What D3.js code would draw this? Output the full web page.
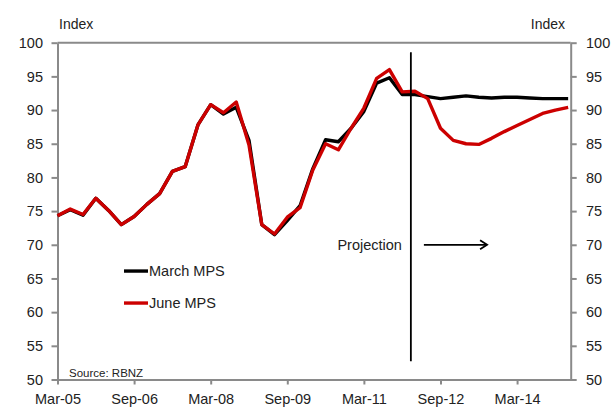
<!DOCTYPE html>
<html><head><meta charset="utf-8">
<script src="https://cdn.jsdelivr.net/npm/d3@7"></script>
<style>
body{margin:0;background:#fff;}
text{font-family:"Liberation Sans",Arial,sans-serif;fill:#222;}
</style></head><body>
<svg id="c" width="614" height="407"></svg>
<script>
// quarterly index, Mar-05 (0) to Mar-15 (40)
const quarters = d3.range(0, 41);
const marchMPS = [74.3,75.2,74.4,76.9,75.1,73.0,74.2,76.0,77.6,80.9,81.6,87.8,90.8,89.4,90.4,85.5,73.0,71.5,73.6,75.8,81.3,85.6,85.3,87.3,89.8,94.0,94.8,92.3,92.3,92.0,91.7,91.9,92.1,91.9,91.8,91.9,91.9,91.8,91.7,91.7,91.7];
const juneMPS  = [74.3,75.3,74.5,76.9,75.1,73.0,74.2,76.0,77.6,80.9,81.6,87.8,90.8,89.6,91.2,84.8,73.0,71.6,74.1,75.5,81.1,85.0,84.1,87.3,90.3,94.7,96.0,92.7,92.8,91.7,87.3,85.5,85.0,84.9,85.8,86.8,87.7,88.6,89.5,90.0,90.4];
const xTickIdx = [0,6,12,18,24,30,36];
const xTickLabels = ["Mar-05","Sep-06","Mar-08","Sep-09","Mar-11","Sep-12","Mar-14"];
const yTicks = [50,55,60,65,70,75,80,85,90,95,100];
const projectionQ = 27.68, projectionRange = [52.7, 98.6];
const arrowFrom = 28.7, arrowTo = 33.65, arrowLevel = 70;
const seriesNames = ["March MPS","June MPS"];
const seriesColors = ["#000000","#cc0000"];

const svg = d3.select("#c");
const L = 57.5, R = 570.7, T = 42.7, B = 379.5;
const x = d3.scaleLinear().domain([0, 40.2]).range([L, R]);
const y = d3.scaleLinear().domain([50, 100]).range([B, T]);
const grey = "#8a8a8a";

// frame top
svg.append("line").attr("x1", L).attr("x2", R).attr("y1", T).attr("y2", T)
  .attr("stroke", grey).attr("stroke-width", 2);

// axes
const yl = svg.append("g").attr("transform", `translate(${L},0)`)
  .call(d3.axisLeft(y).tickValues(yTicks).tickSize(6).tickPadding(9).tickSizeOuter(0));
const yr = svg.append("g").attr("transform", `translate(${R},0)`)
  .call(d3.axisRight(y).tickValues(yTicks).tickSize(6).tickPadding(9).tickSizeOuter(0));
const xa = svg.append("g").attr("transform", `translate(0,${B})`)
  .call(d3.axisBottom(x).tickValues(xTickIdx).tickFormat((d,i)=>xTickLabels[i]).tickSize(5).tickPadding(9).tickSizeOuter(0));
[yl, yr, xa].forEach(g => {
  g.selectAll("path,line").attr("stroke", grey).attr("stroke-width", 2);
  g.selectAll("text").attr("font-size", 14.5).attr("fill", "#222")
   .attr("font-family", '"Liberation Sans",Arial,sans-serif');
});
yl.selectAll("text").attr("x", -14.5);
yr.selectAll("text").attr("x", 15.3);
xa.selectAll("text").attr("y", 14.5).attr("dy", "0.71em");

// axis titles
svg.append("text").attr("x", 59).attr("y", 29).attr("font-size", 14).text("Index");
svg.append("text").attr("x", 565).attr("y", 29).attr("font-size", 14).attr("text-anchor", "end").text("Index");

// lines
const line = d3.line().x((d,i)=>x(quarters[i])).y(d=>y(d));
[marchMPS, juneMPS].forEach((s, k) => {
  svg.append("path").datum(s).attr("d", line).attr("fill", "none")
    .attr("stroke", seriesColors[k]).attr("stroke-width", 3.4).attr("stroke-linejoin", "round");
});

// projection line
svg.append("line").attr("x1", x(projectionQ)).attr("x2", x(projectionQ))
  .attr("y1", y(projectionRange[1])).attr("y2", y(projectionRange[0]))
  .attr("stroke", "#000").attr("stroke-width", 1.8);
svg.append("text").attr("x", x(projectionQ) - 9).attr("y", y(arrowLevel) + 5)
  .attr("text-anchor", "end").attr("font-size", 14.5).text("Projection");
svg.append("line").attr("x1", x(arrowFrom)).attr("x2", x(arrowTo) - 1)
  .attr("y1", y(arrowLevel)).attr("y2", y(arrowLevel)).attr("stroke", "#000").attr("stroke-width", 1.8);
svg.append("path")
  .attr("d", `M${x(arrowTo)-7},${y(arrowLevel)-4.5} L${x(arrowTo)},${y(arrowLevel)} L${x(arrowTo)-7},${y(arrowLevel)+4.5}`)
  .attr("fill", "none").attr("stroke", "#000").attr("stroke-width", 1.8);

// legend
const legendY = [66.1, 61.35];
seriesNames.forEach((n, k) => {
  svg.append("line").attr("x1", 124).attr("x2", 148).attr("y1", y(legendY[k])).attr("y2", y(legendY[k]))
    .attr("stroke", seriesColors[k]).attr("stroke-width", 3.4);
  svg.append("text").attr("x", 149).attr("y", y(legendY[k]) + 5).attr("font-size", 14.5).text(n);
});

// source
svg.append("text").attr("x", 69).attr("y", 377).attr("font-size", 11.5).text("Source: RBNZ");
</script>
</body></html>
